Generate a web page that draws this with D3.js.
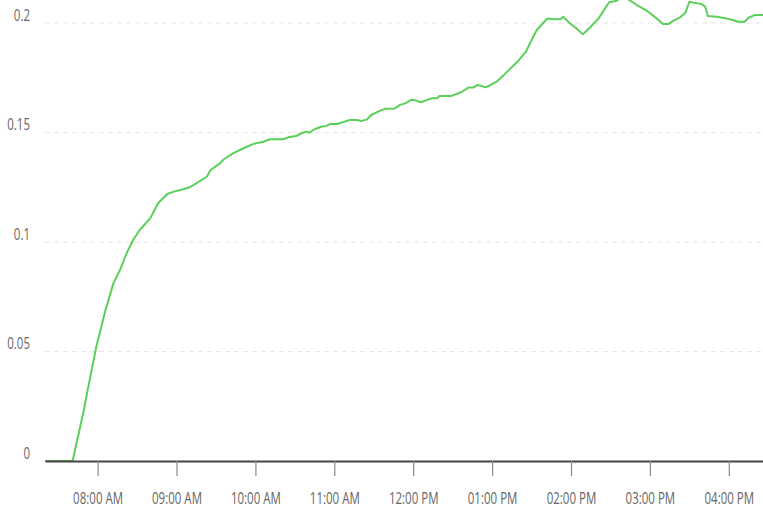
<!DOCTYPE html>
<html>
<head>
<meta charset="utf-8">
<script src="https://d3js.org/d3.v7.min.js"></script>
<style>
html,body{margin:0;padding:0;background:#fff;}
svg{display:block;}
</style>
</head>
<body>
<svg id="chart" width="763" height="512"></svg>
<script>
// Data
const times = ["07:20","07:41","07:49","07:56","07:59","08:06","08:12","08:17","08:22","08:27","08:32","08:40","08:46","08:53","08:58",
"09:05","09:10","09:15","09:23","09:26","09:33","09:36","09:43","09:51","09:58","10:06","10:11","10:21","10:25","10:31","10:36","10:39","10:41","10:45","10:50","10:54","10:57",
"11:02","11:07","11:12","11:17","11:21","11:25","11:28","11:35","11:39","11:46","11:50","11:54","11:58","12:01","12:06","12:10","12:14","12:18","12:20","12:29","12:33","12:37","12:42","12:46","12:49","12:52","12:55","12:59",
"13:04","13:09","13:14","13:20","13:26","13:30","13:34","13:39","13:42","13:47","13:52","13:54","13:59","14:04","14:09","14:15","14:21","14:26","14:29","14:34","14:37","14:43","14:50","14:58",
"15:04","15:10","15:14","15:18","15:23","15:27","15:30","15:33","15:39","15:42","15:44","15:51","15:58","16:03","16:07","16:12","16:15","16:20","16:30"];
const values = [0,0,0.0218,0.0431,0.0522,0.0689,0.0811,0.0872,0.0948,0.1009,0.1055,0.1108,0.1177,0.1219,0.1230,
0.1241,0.1250,0.1268,0.1298,0.1329,0.1359,0.1378,0.1405,0.1428,0.1447,0.1458,0.1469,0.1469,0.1478,0.1484,0.1499,0.1504,0.1499,0.1515,0.1526,0.1530,0.1539,
0.1539,0.1548,0.1557,0.1557,0.1553,0.1560,0.1580,0.1600,0.1609,0.1610,0.1626,0.1633,0.1648,0.1648,0.1638,0.1648,0.1656,0.1656,0.1667,0.1667,0.1676,0.1686,0.1705,0.1706,0.1717,0.1712,0.1706,0.1717,
0.1735,0.1763,0.1793,0.1828,0.1872,0.1922,0.1968,0.2001,0.2021,0.2017,0.2017,0.2029,0.1999,0.1976,0.1948,0.1983,0.2021,0.2067,0.2095,0.2100,0.2110,0.2110,0.2082,0.2055,
0.2026,0.1995,0.1995,0.2011,0.2026,0.2047,0.2097,0.2093,0.2087,0.2075,0.2032,0.2029,0.2021,0.2014,0.2006,0.2006,0.2024,0.2037,0.2037];
const yTicks = [0, 0.05, 0.1, 0.15, 0.2];
const xTickTimes = ["08:00","09:00","10:00","11:00","12:00","13:00","14:00","15:00","16:00"];
const xDomain = ["07:20","16:26"];

(function(){
const parse = d3.timeParse("%H:%M");
const data = times.map((t,i)=>({t:parse(t), v:values[i]}));

const svg = d3.select("#chart");
const mLeft = 45, mRight = 763, mTop = 23, mBottom = 461;

const x = d3.scaleTime().domain(xDomain.map(parse)).range([mLeft, mRight]);
const y = d3.scaleLinear().domain([0, 0.2]).range([mBottom, mTop]);

const sx = 0.72;
const font = "'Open Sans', 'Noto Sans', sans-serif";

// gridlines
svg.append("g").selectAll("line").data(yTicks.filter(d=>d>0)).join("line")
  .attr("x1", mLeft).attr("x2", mRight)
  .attr("y1", d=>y(d)).attr("y2", d=>y(d))
  .attr("stroke", "#e6e6e6").attr("stroke-width", 1)
  .attr("stroke-dasharray", "5,4");

// y labels
const fmt = d3.format("~g");
svg.append("g").selectAll("text").data(yTicks).join("text")
  .attr("transform", d=>`translate(30,${y(d)-2.5}) scale(${sx},1)`)
  .attr("text-anchor","end")
  .attr("font-family", font).attr("font-size", 16)
  .attr("fill", "#666")
  .text(d=>fmt(d));

// line
svg.append("clipPath").attr("id","clip").append("rect")
  .attr("x", mLeft).attr("y", 0).attr("width", mRight-mLeft).attr("height", mBottom+2);
const line = d3.line().x(d=>x(d.t)).y(d=>y(d.v));
svg.append("path").datum(data)
  .attr("clip-path","url(#clip)")
  .attr("d", line)
  .attr("fill","none")
  .attr("stroke","#5ad05a")
  .attr("stroke-width", 2)
  .attr("stroke-linejoin","round");

// x axis
const xAxis = d3.axisBottom(x)
  .tickValues(xTickTimes.map(parse))
  .tickSize(15)
  .tickSizeOuter(0)
  .tickFormat(d3.timeFormat("%I:%M %p"));
const gx = svg.append("g").attr("transform", `translate(0,${mBottom})`).call(xAxis);
gx.select(".domain").attr("stroke","#444").attr("stroke-width",2);
gx.selectAll(".tick line").attr("stroke","#888").attr("stroke-width",1.2);
gx.selectAll(".tick text")
  .attr("font-family", font).attr("font-size", 16).attr("fill","#666")
  .attr("y", null).attr("dy", null)
  .attr("transform", `translate(0,43) scale(${sx},1)`);
})();
</script>
</body>
</html>
